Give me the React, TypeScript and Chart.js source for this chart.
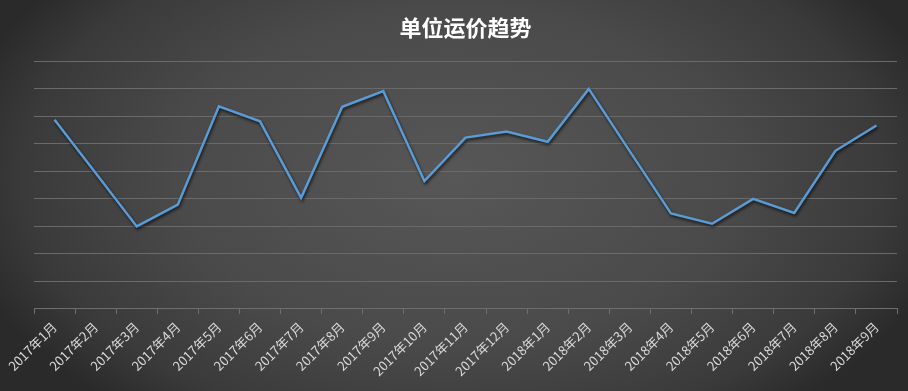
import React, { useEffect, useRef } from "react";
import { Chart, registerables } from "chart.js";

Chart.register(...registerables);

const months: string[] = [
  "2017年1月", "2017年2月", "2017年3月", "2017年4月", "2017年5月", "2017年6月",
  "2017年7月", "2017年8月", "2017年9月", "2017年10月", "2017年11月", "2017年12月",
  "2018年1月", "2018年2月", "2018年3月", "2018年4月", "2018年5月", "2018年6月",
  "2018年7月", "2018年8月", "2018年9月",
];

const unitFreight: number[] = [
  6.88, 4.94, 3.0, 3.79, 7.37, 6.82,
  4.04, 7.35, 7.92, 4.65, 6.23, 6.45,
  6.08, 8.0, 5.73, 3.47, 3.1, 4.0,
  3.49, 5.75, 6.67,
];

const titleText = "单位运价趋势";
const yMin = 0;
const yMax = 9;

const W = 908;
const H = 391;

// Dark vignette background behind the whole canvas
const backdrop = {
  id: "backdrop",
  beforeDraw(chart: Chart) {
    const { ctx, width, height } = chart;
    ctx.save();
    ctx.translate(width / 2, height * 0.45);
    ctx.scale(1, 0.6);
    const g = ctx.createRadialGradient(0, 0, 0, 0, 0, width * 0.56);
    g.addColorStop(0, "#575757");
    g.addColorStop(0.55, "#4a4a4a");
    g.addColorStop(0.85, "#3a3a3a");
    g.addColorStop(1, "#2a2a2a");
    ctx.fillStyle = g;
    ctx.fillRect(-width, -height * 2, width * 2, height * 4);
    ctx.restore();
  },
};

// Soft drop shadow under the line
const lineShadow = {
  id: "lineShadow",
  beforeDatasetsDraw(chart: Chart) {
    const ctx = chart.ctx;
    ctx.save();
    ctx.shadowColor = "rgba(0,0,0,0.7)";
    ctx.shadowBlur = 3;
    ctx.shadowOffsetX = 1;
    ctx.shadowOffsetY = 2;
  },
  afterDatasetsDraw(chart: Chart) {
    chart.ctx.restore();
  },
};

export default function App() {
  const canvasRef = useRef<HTMLCanvasElement | null>(null);

  useEffect(() => {
    document.body.style.margin = "0";
    const canvas = canvasRef.current;
    if (!canvas) return;
    const chart = new Chart(canvas, {
      type: "line",
      data: {
        labels: months,
        datasets: [
          {
            label: titleText,
            data: unitFreight,
            borderColor: "#5b9bd5",
            borderWidth: 2.5,
            pointRadius: 0,
            tension: 0,
            fill: false,
          },
        ],
      },
      options: {
        animation: false,
        responsive: false,
        devicePixelRatio: 1,
        layout: { padding: { left: 34, right: 11, top: 0, bottom: 7 } },
        plugins: {
          legend: { display: false },
          tooltip: { enabled: false },
          title: {
            display: true,
            text: titleText,
            color: "#ffffff",
            font: { family: "'Noto Sans CJK SC', sans-serif", size: 22, weight: "bold" },
            padding: { top: 14, bottom: 21 },
          },
        },
        scales: {
          x: {
            offset: true,
            border: { display: true, color: "#6e6e6e", width: 1 },
            grid: {
              display: true,
              offset: true,
              drawOnChartArea: false,
              drawTicks: true,
              tickLength: 5,
              color: "#6e6e6e",
            },
            ticks: {
              color: "#d9d9d9",
              font: { family: "'Noto Sans CJK SC', sans-serif", size: 13 },
              minRotation: 45,
              maxRotation: 45,
              autoSkip: false,
              padding: 5,
            },
          },
          y: {
            min: yMin,
            max: yMax,
            border: { display: false },
            grid: { color: "#6a6a6a", lineWidth: 1, drawTicks: false },
            ticks: { display: false, stepSize: 1 },
          },
        },
      },
      plugins: [backdrop, lineShadow],
    });
    return () => chart.destroy();
  }, []);

  return (
    <div style={{ position: "fixed", left: 0, top: 0, width: W, height: H }}>
      <canvas ref={canvasRef} width={W} height={H} style={{ width: W, height: H, display: "block" }} />
    </div>
  );
}
